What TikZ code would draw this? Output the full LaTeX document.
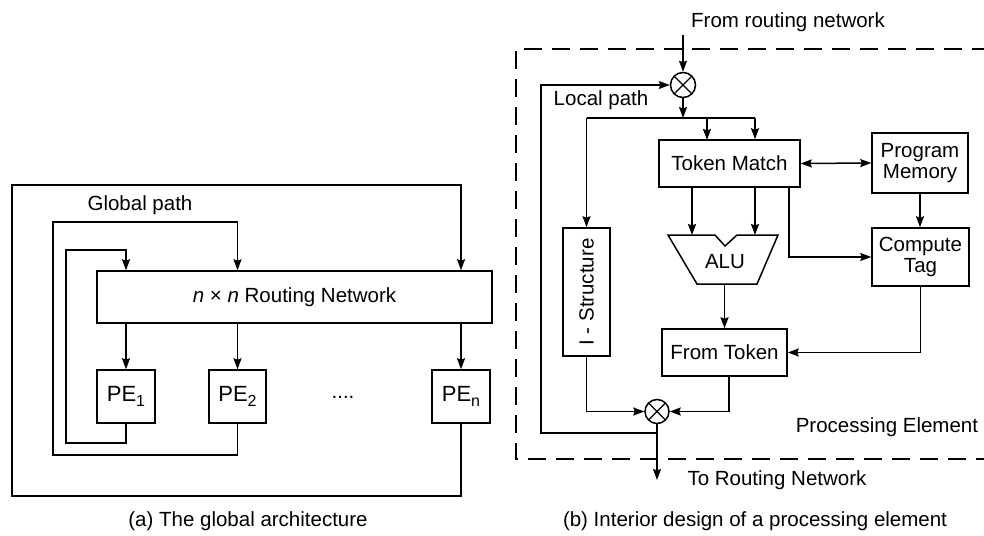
\documentclass[tikz,border=0pt]{standalone}
\usepackage{fontspec}
\setmainfont{Liberation Sans}
\usetikzlibrary{arrows.meta,calc}

\newcommand{\sub}[1]{\raisebox{-5pt}{\fontsize{16}{16}\selectfont #1}}

\begin{document}
\begin{tikzpicture}[x=1pt,y=-1pt,
  line width=1.5pt,
  every node/.style={font=\fontsize{20.5}{24}\selectfont, inner sep=0pt},
  arr/.style={-{Stealth[length=11pt,width=8pt,inset=1.5pt]}},
  darr/.style={{Stealth[length=11pt,width=8pt,inset=1.5pt]}-{Stealth[length=11pt,width=8pt,inset=1.5pt]}},
  blk/.style={draw, minimum width=#1, align=center},
  pebox/.style={draw, minimum width=#1, minimum height=53pt, font=\fontsize{22}{24}\selectfont},
  merge/.style={draw, circle, minimum size=25pt,
    path picture={\draw[line width=1.3pt]
      (path picture bounding box.south west) -- (path picture bounding box.north east)
      (path picture bounding box.north west) -- (path picture bounding box.south east);}}
]
\useasboundingbox (0,0) rectangle (984,535);

% ---------------- (a) global architecture ----------------
\node[blk=395pt, minimum height=52pt] (net) at (294.5,297)
  {{\itshape n} × {\itshape n} Routing Network};
\node[pebox=58pt] (pe1) at (126,396.5) {PE\sub{1}};
\node[pebox=57pt] (pe2) at (237.5,396.5) {PE\sub{2}};
\node[pebox=58pt] (pen) at (461,396.5) {PE\sub{n}};
\node (dots) at (343,397) {....};
\node (gp) at (140,205) {Global path};

% routing network feeds every PE
\foreach \p in {pe1,pe2,pen}
  \draw[arr] (net.south -| \p.north) -- (\p.north);

% feedback loops from each PE back into the network
\draw[arr] (pe1.south) |- (66,443) -- (66,250) -| (net.north -| pe1.north);
\draw[arr] (pe2.south) |- (53,455) -- (53,222) -| (net.north -| pe2.north);
\draw[arr] (pen.south) |- (12,496) -- (12,185) -| (net.north -| pen.north);

\node (capa) at (248,521) {(a) The global architecture};

% ---------------- (b) processing element ----------------
% dashed boundary of the processing element
\draw[dash pattern=on 18pt off 10pt, line width=1.4pt]
  (990,49) -- (516,49) -- (516,459) -- (990,459);

\node (fromnet) at (788,22) {From routing network};
\coordinate (inTop) at (683,35);
\node[merge] (c1) at (683,85) {};
\draw[arr] (inTop) -- (c1.north);

\node[blk=141pt, minimum height=47pt] (tm) at (729.5,163.5) {Token Match};
\node[blk=96pt, minimum height=60pt] (pm) at (920,163) {Program\\[-3pt]Memory};
\node[blk=97pt, minimum height=58pt] (ct) at (920.5,257) {Compute\\[-3pt]Tag};
\node[blk=125pt, minimum height=47pt] (ft) at (724.5,352.5) {From Token};
\node[blk=47pt, minimum height=128pt] (is) at (586.5,292) {};
\node[rotate=90] (istxt) at (is.center) {I - Structure};

% ALU
\draw (668,235) -- (715,235) -- (725,246) -- (737,235) -- (778,235)
      -- (757,284) -- (697,284) -- cycle;
\node (alu) at (725,262) {ALU};
\coordinate (aluInL) at (692,235);
\coordinate (aluInR) at (755,235);
\coordinate (aluOut) at (724.5,284);

\node[merge, minimum size=24pt] (c2) at (657,411.5) {};

% distribution below the input merge
\coordinate (j1) at (683,118);
\coordinate (jL) at (586.5,118);
\coordinate (jR) at (755,118);
\draw[arr] (c1.south) -- (j1);
\draw (jL) -- (jR);
\draw[arr] (707,118) -- (707,140);
\draw[arr] (jR) -- (tm.north -| jR);
\draw[arr] (jL) -- (is.north);

% token match connections
\draw[darr] (tm.east) -- (pm.west);
\draw[arr] (tm.south -| aluInL) -- (aluInL);
\draw[arr] (tm.south -| aluInR) -- (aluInR);
\draw[arr] (789,187) |- (ct.west);
\draw[arr] (pm.south) -- (ct.north -| pm.south);
\draw[arr] (aluOut) -- (ft.north);
\draw[arr] (ct.south) |- (ft.east);

% output merge
\draw[arr] (is.south) |- (c2.west);
\draw[arr] (729,376) |- (c2.east);
\coordinate (out) at (657,480);
\draw[arr] (c2.south) -- (out);

% local path back to the input merge
\coordinate (j2) at (657,433);
\draw[arr] (j2) -| (541,85) -- (c1.west);
\node (lp) at (601,100) {Local path};

\node (tonet) at (777,480) {To Routing Network};
\node[anchor=west] (pelab) at (795,427) {Processing Element};

\node (capb) at (755,521) {(b) Interior design of a processing element};
\end{tikzpicture}
\end{document}
